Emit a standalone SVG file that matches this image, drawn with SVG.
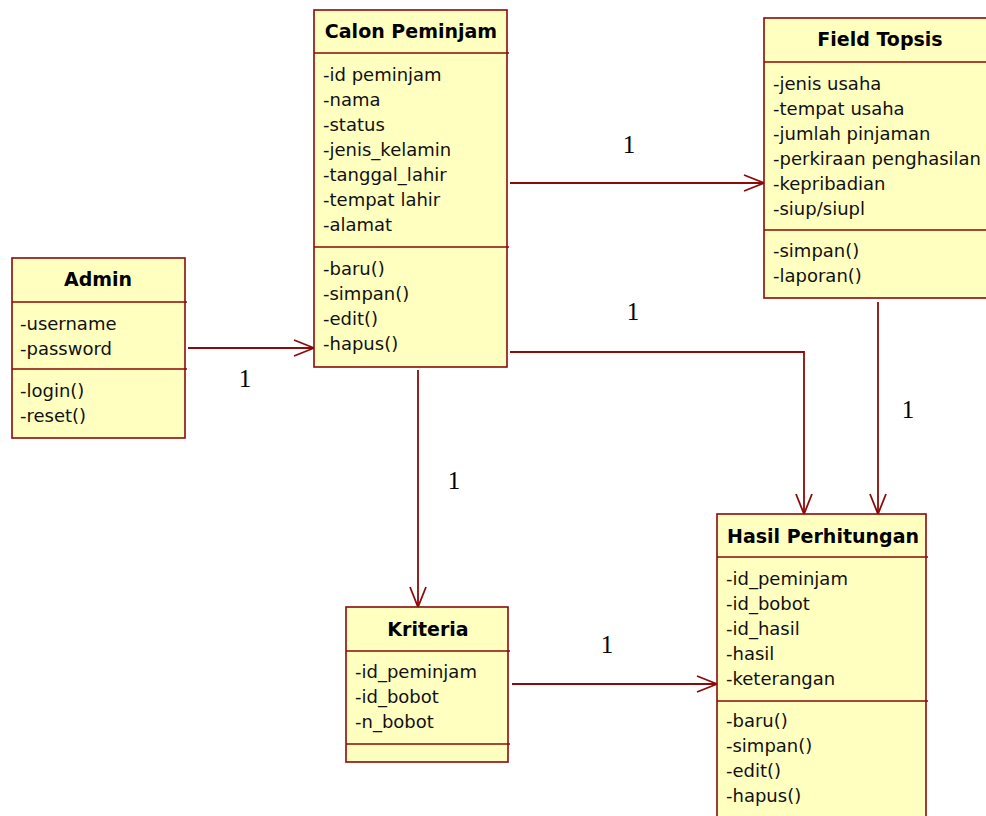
<svg xmlns="http://www.w3.org/2000/svg" width="986" height="816" viewBox="0 0 986 816">
<defs>
<style>
.box{fill:#FFFFC0;stroke:#8B0A0A;stroke-width:1.6}
.div{stroke:#8B0A0A;stroke-width:1.6;fill:none}
.t{font-family:"DejaVu Sans",Verdana,sans-serif;font-size:18px;fill:#111}
.h{font-family:"DejaVu Sans",Verdana,sans-serif;font-size:19px;font-weight:bold;fill:#000;text-anchor:middle}
.c{stroke:#8B0A0A;stroke-width:1.8;fill:none}
.m{font-family:"Liberation Serif","Times New Roman",serif;font-size:25px;fill:#000;text-anchor:middle}
</style>
<marker id="arr" viewBox="0 0 22 18" refX="21" refY="9" markerWidth="22" markerHeight="18" markerUnits="userSpaceOnUse" orient="auto">
<path d="M1,1 L21,9 L1,17" fill="none" stroke="#8B0A0A" stroke-width="1.8"/>
</marker>
</defs>
<rect width="986" height="816" fill="#fff"/>

<g id="connectors">
<path class="c" d="M188,348 H314" marker-end="url(#arr)"/>
<path class="c" d="M510,183 H764" marker-end="url(#arr)"/>
<path class="c" d="M510,352 H804 V514" marker-end="url(#arr)"/>
<path class="c" d="M878,302 V514" marker-end="url(#arr)"/>
<path class="c" d="M418,370 V607" marker-end="url(#arr)"/>
<path class="c" d="M512,684 H717" marker-end="url(#arr)"/>
<text class="m" x="245" y="387">1</text>
<text class="m" x="629" y="153">1</text>
<text class="m" x="633" y="320">1</text>
<text class="m" x="908" y="418">1</text>
<text class="m" x="454" y="489">1</text>
<text class="m" x="607" y="653">1</text>
</g>

<g id="admin">
<rect class="box" x="12" y="258" width="173" height="180"/>
<path class="div" d="M12,302 H187 M12,369 H187"/>
<text class="h" x="98" y="286">Admin</text>
<text class="t" x="20" y="330">-username</text>
<text class="t" x="20" y="355">-password</text>
<text class="t" x="20" y="397">-login()</text>
<text class="t" x="20" y="422">-reset()</text>
</g>

<g id="calon-peminjam">
<rect class="box" x="314" y="10" width="193" height="357"/>
<path class="div" d="M314,53 H509 M314,247 H509"/>
<text class="h" x="411" y="38">Calon Peminjam</text>
<text class="t" x="323" y="81">-id peminjam</text>
<text class="t" x="323" y="106">-nama</text>
<text class="t" x="323" y="131">-status</text>
<text class="t" x="323" y="156">-jenis_kelamin</text>
<text class="t" x="323" y="181">-tanggal_lahir</text>
<text class="t" x="323" y="206">-tempat lahir</text>
<text class="t" x="323" y="231">-alamat</text>
<text class="t" x="323" y="275">-baru()</text>
<text class="t" x="323" y="300">-simpan()</text>
<text class="t" x="323" y="325">-edit()</text>
<text class="t" x="323" y="350">-hapus()</text>
</g>

<g id="field-topsis">
<rect class="box" x="764" y="18" width="232" height="280"/>
<path class="div" d="M764,62 H996 M764,230 H996"/>
<text class="h" x="880" y="46">Field Topsis</text>
<text class="t" x="773" y="90">-jenis usaha</text>
<text class="t" x="773" y="115">-tempat usaha</text>
<text class="t" x="773" y="140">-jumlah pinjaman</text>
<text class="t" x="773" y="165">-perkiraan penghasilan</text>
<text class="t" x="773" y="190">-kepribadian</text>
<text class="t" x="773" y="215">-siup/siupl</text>
<text class="t" x="773" y="257">-simpan()</text>
<text class="t" x="773" y="282">-laporan()</text>
</g>

<g id="kriteria">
<rect class="box" x="346" y="607" width="162" height="155"/>
<path class="div" d="M346,651 H510 M346,744 H510"/>
<text class="h" x="428" y="636">Kriteria</text>
<text class="t" x="355" y="678">-id_peminjam</text>
<text class="t" x="355" y="703">-id_bobot</text>
<text class="t" x="355" y="728">-n_bobot</text>
</g>

<g id="hasil-perhitungan">
<rect class="box" x="717" y="514" width="209" height="320"/>
<path class="div" d="M717,557 H928 M717,701 H928"/>
<text class="h" x="823" y="543">Hasil Perhitungan</text>
<text class="t" x="726" y="585">-id_peminjam</text>
<text class="t" x="726" y="610">-id_bobot</text>
<text class="t" x="726" y="635">-id_hasil</text>
<text class="t" x="726" y="660">-hasil</text>
<text class="t" x="726" y="685">-keterangan</text>
<text class="t" x="726" y="727">-baru()</text>
<text class="t" x="726" y="752">-simpan()</text>
<text class="t" x="726" y="777">-edit()</text>
<text class="t" x="726" y="802">-hapus()</text>
</g>
</svg>
